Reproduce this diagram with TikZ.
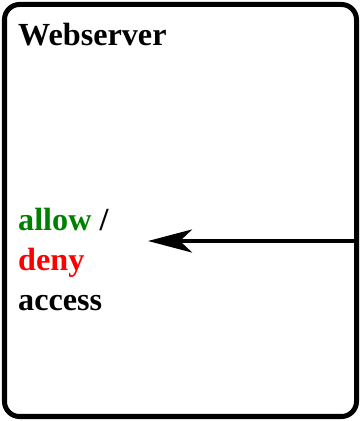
\documentclass[tikz,border=0pt]{standalone}
\usepackage{fontspec}
\setmainfont{Liberation Serif}
\usepackage{tikz}
\usetikzlibrary{arrows.meta,calc}

\definecolor{allowgreen}{RGB}{0,128,0}
\definecolor{denyred}{RGB}{255,0,0}

\tikzset{
  label text/.style={anchor=base west, inner sep=0pt, font=\fontsize{32.3}{36}\selectfont\bfseries},
  server box/.style={draw=black, line width=5bp, rounded corners=15bp},
  request arrow/.style={line width=4.3bp, -{Stealth[length=44bp,width=23bp,inset=12bp]}}
}

\begin{document}
\begin{tikzpicture}[x=1bp,y=1bp]
	\useasboundingbox (0,0) rectangle (361,421);
	\def\tx{18} % left edge of texts
	\def\ay{180} % height of arrow
	
	% the server box
	\draw[server box] (4.5,4.5) rectangle (356.5,416.5);
	\node[label text] (title) at (\tx,376) {Webserver};
	
	% decision text
	\node[label text] (allow) at (\tx,191) {\textcolor{allowgreen}{allow} /};
	\node[label text] (deny) at (\tx,151) {\textcolor{denyred}{deny}};
	\node[label text] (access) at (\tx,111) {access};
	
	% incoming request
	\coordinate (in) at (356.5,\ay);
	\coordinate (tip) at (148,\ay);
	\draw[request arrow] (in) -- (tip);
\end{tikzpicture}
\end{document}
